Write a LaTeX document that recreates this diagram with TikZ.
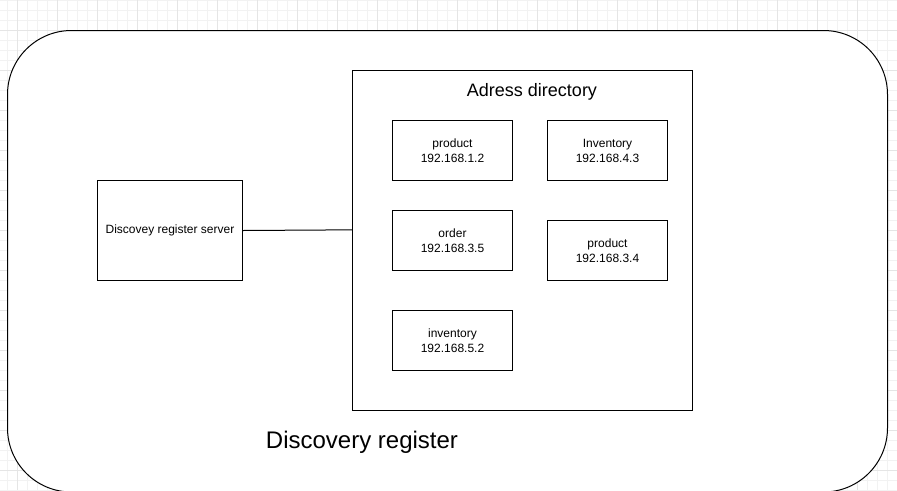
\documentclass[tikz,border=0pt]{standalone}
\usepackage{fontspec}
\setmainfont{Liberation Sans}
\begin{document}
\begin{tikzpicture}[x=0.75pt,y=-0.75pt,
  box/.style={draw=black,line width=0.75pt,fill=white,inner sep=0pt,align=center,
    font=\fontsize{9}{11.25}\selectfont},
  smallbox/.style={box,minimum width=90pt,minimum height=45pt},
  gridminor/.style={draw=black!5,line width=0.75pt},
  gridmajor/.style={draw=black!10,line width=0.75pt}]
\useasboundingbox (0,0) rectangle (897,490);
\fill[white] (0,0) rectangle (897,490);
% grid
\foreach \gx in {7,17,...,897} \draw[gridminor] (\gx,0) -- (\gx,490);
\foreach \gy in {0,10,...,490} \draw[gridminor] (0,\gy) -- (897,\gy);
\foreach \gx in {17,57,...,897} \draw[gridmajor] (\gx,0) -- (\gx,490);
\foreach \gy in {30,70,...,490} \draw[gridmajor] (0,\gy) -- (897,\gy);
% outer rounded container
\draw[line width=0.75pt,fill=white,rounded corners=48pt] (7.5,30.5) rectangle (887.5,492);
\node[font=\fontsize{18}{20}\selectfont] (outerlabel) at (362,442) {Discovery register};
% address directory
\node[box,minimum width=255pt,minimum height=255pt] (dir) at (522.5,240.5) {};
\node[font=\fontsize{13.5}{16}\selectfont] (dirlabel) at (532,92) {Adress directory};
\node[smallbox] (p1) at (452.5,150.5) {product\\192.168.1.2};
\node[smallbox] (i1) at (607.5,150.5) {Inventory\\192.168.4.3};
\node[smallbox] (o1) at (452.5,240.5) {order\\192.168.3.5};
\node[smallbox] (p2) at (607.5,250.5) {product\\192.168.3.4};
\node[smallbox] (i2) at (452.5,340.5) {inventory\\192.168.5.2};
% server
\node[box,minimum width=108.75pt,minimum height=75pt] (srv) at (170,230.5) {Discovey register server};
\draw[line width=0.75pt] (srv.east) -- ([yshift=0.5pt]srv.east -| dir.west);
\end{tikzpicture}
\end{document}
